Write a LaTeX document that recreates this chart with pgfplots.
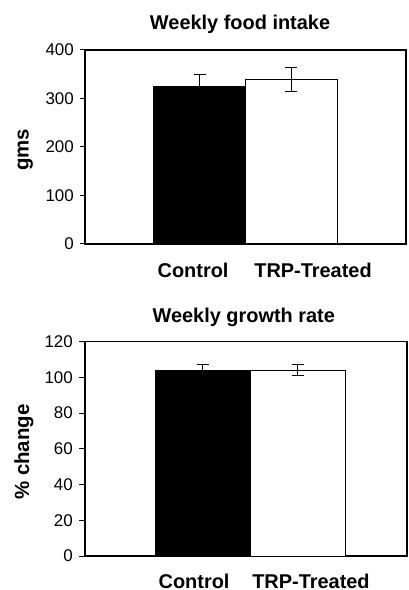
\documentclass[border=0pt]{standalone}
\usepackage{fontspec}
\setmainfont{Liberation Sans}
\usepackage{pgfplots}
\pgfplotsset{compat=1.18}
\begin{document}
\begin{tikzpicture}
\path[use as bounding box] (0bp,0bp) rectangle (409bp,590bp);
\pgfplotsset{
  myax/.style={
    scale only axis,
    axis line style={line width=1.2bp},
    ymin=0,
    xtick style={draw=none},
    ytick pos=left,
    tick align=outside,
    major tick length=5bp,
    ytick style={line width=1bp, black},
    /pgf/number format/assume math mode=true,
    yticklabel style={font=\fontsize{17}{19}\selectfont, anchor=east, inner sep=0pt, xshift=-6bp},
    xticklabel style={font=\fontsize{20}{22}\selectfont\bfseries, anchor=north, inner sep=0pt},
    xticklabels={Control, TRP-Treated},
    ylabel style={font=\fontsize{20.5}{22}\selectfont\bfseries, anchor=center, inner sep=0pt},
    title style={font=\fontsize{20}{22}\selectfont\bfseries, anchor=base, inner sep=0pt},
    every axis plot/.append style={ybar, bar width=1, bar shift=0pt, draw=black, line width=1bp,
      error bars/y dir=both, error bars/y explicit,
      error bars/error bar style={line width=1bp, black},
      error bars/error mark options={rotate=90, mark size=6bp, line width=1bp, black}},
  }
}
\begin{axis}[myax,
  at={(85bp,346bp)}, anchor=south west,
  width=321bp, height=194bp,
  xmin=-1.245, xmax=2.245,
  ymax=400, ytick={0,100,200,300,400},
  xtick={-0.07,1.234},
  xticklabel style={yshift=-14bp},
  ylabel={gms},
  ylabel style={at={(axis description cs:-0.186,0.485)}},
  title={Weekly food intake},
  title style={at={(axis description cs:0.483,1)}, yshift=15bp},
]
\addplot[fill=black] coordinates {(0,324) +- (0,26.5)};
\addplot[fill=white] coordinates {(1,339) +- (0,24.5)};
\end{axis}
\begin{axis}[myax,
  at={(85bp,34bp)}, anchor=south west,
  width=322bp, height=214.3bp,
  xmin=-1.237, xmax=2.15,
  ymax=120, ytick={0,20,...,120},
  major tick length=6bp,
  xtick={-0.09,1.14},
  xticklabel style={yshift=-11.5bp},
  ylabel={\% change},
  ylabel style={at={(axis description cs:-0.19,0.485)}},
  title={Weekly growth rate},
  title style={at={(axis description cs:0.493,1)}, yshift=13bp},
]
\addplot[fill=black] coordinates {(0,103.8) +- (0,3.3)};
\addplot[fill=white] coordinates {(1,104) +- (0,3.1)};
\end{axis}
\end{tikzpicture}
\end{document}
